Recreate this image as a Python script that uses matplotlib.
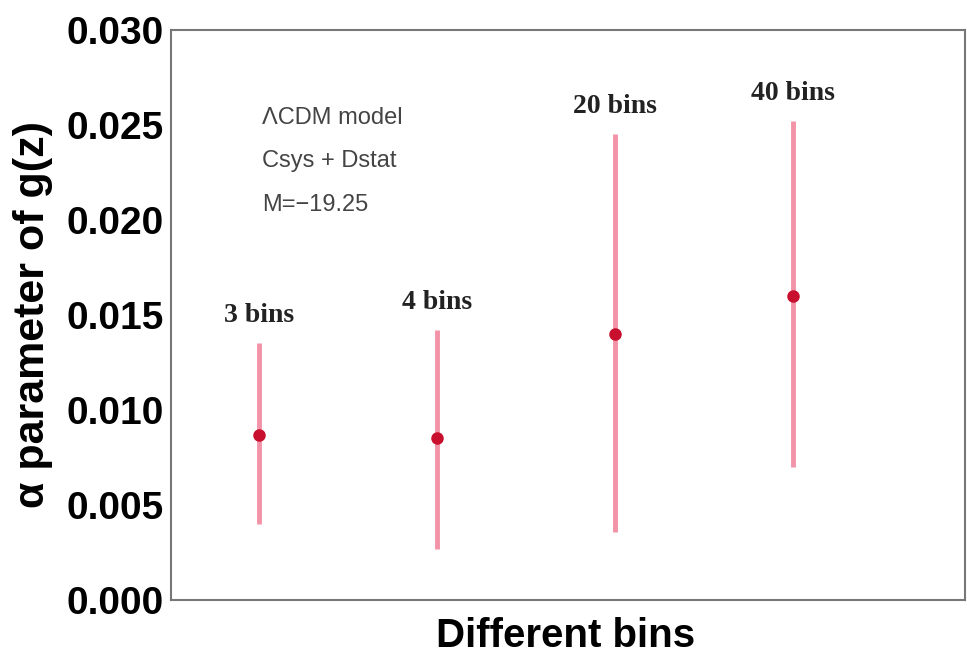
import matplotlib
matplotlib.use("Agg")
import matplotlib.pyplot as plt
import numpy as np

# values
bin_labels = ["3 bins", "4 bins", "20 bins", "40 bins"]
alpha_best = [0.0087, 0.0085, 0.0140, 0.0160]
alpha_upper = [0.0135, 0.0142, 0.0245, 0.0252]
alpha_lower = [0.0040, 0.0027, 0.0036, 0.0070]
info_lines = ["\u039bCDM model", "Csys + Dstat", "M=\u221219.25"]

x = np.arange(1, len(bin_labels) + 1)
best = np.array(alpha_best)
yerr = [best - np.array(alpha_lower), np.array(alpha_upper) - best]

fig = plt.figure(figsize=(9.67, 6.56), dpi=100)
ax = fig.add_axes([0.1768, 0.0854, 0.821, 0.869])

ax.errorbar(x, best, yerr=yerr, fmt="none", ecolor="#f393a8",
            elinewidth=3.5, capsize=0, zorder=2)
ax.plot(x, best, "o", color="#c8102e", markersize=8, zorder=3)

for xi, top, lab in zip(x, alpha_upper, bin_labels):
    ax.annotate(lab, (xi, top), xytext=(0, 20), textcoords="offset points",
                ha="center", va="center", family="Liberation Serif",
                fontweight="bold", fontsize=20, color="#222222")

for i, line in enumerate(info_lines):
    ax.text(0.115, 0.846 - i * 0.0765, line, transform=ax.transAxes,
            family="Liberation Sans", fontsize=17, color="#444444",
            ha="left", va="center")

ax.set_xlim(0.506, 4.966)
ax.set_ylim(0.0, 0.030)
ax.set_yticks(np.arange(0, 0.0301, 0.005))
ax.set_yticklabels([f"{v:.3f}" for v in np.arange(0, 0.0301, 0.005)],
                   family="Liberation Sans", fontweight="bold", fontsize=28)
ax.set_xticks([])
ax.tick_params(axis="y", length=0, pad=5)

for s in ax.spines.values():
    s.set_color("#777777")
    s.set_linewidth(1.5)

ax.set_ylabel("\u03b1 parameter of g(z)", family="Liberation Sans",
              fontweight="bold", fontsize=31)
ax.yaxis.set_label_coords(-0.149, 0.5)
ax.set_xlabel("Different bins", family="Liberation Sans",
              fontweight="bold", fontsize=29)
ax.xaxis.set_label_coords(0.497, -0.03)

fig.savefig("out.png", dpi=100)
